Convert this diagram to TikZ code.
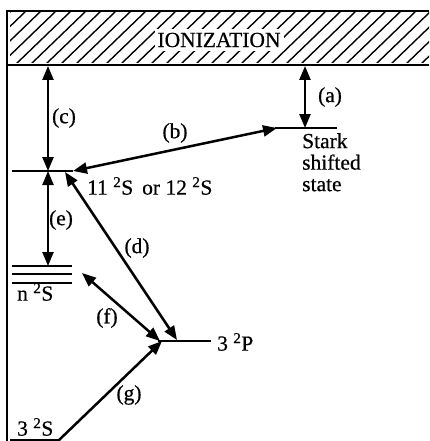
\documentclass[tikz,border=0pt]{standalone}
\usepackage{fontspec}
\setmainfont[FakeBold=0.6]{Liberation Serif}
\usetikzlibrary{arrows.meta}
\begin{document}
\begin{tikzpicture}[x=1pt,y=-1pt,
  lbl/.style={font=\fontsize{21.5}{21.5}\selectfont, inner sep=1pt},
  conn/.style={line width=2.5pt},
  lvl/.style={line width=2.8pt},
  both/.style={conn,{Triangle[length=14pt,width=11pt]}-{Triangle[length=14pt,width=11pt]}},
  one/.style={conn,-{Triangle[length=14pt,width=11pt]}},
  hatch/.style={line width=1.4pt}]
\useasboundingbox (0,0) rectangle (429,441);
% ionization band
\begin{scope}
\clip (10,13) rectangle (429,63);
\foreach \i in {-60,-45,...,480} \draw[hatch] (\i,65) -- (\i+56,11);
\end{scope}
\draw[line width=2.2pt] (429,11) -- (7,11) -- (7,441);
\draw[line width=2.2pt] (7,65) -- (429,65);
\node[lbl, fill=white, inner xsep=3pt, inner ysep=4pt] (ion) at (219,40) {IONIZATION};
% coordinates
\coordinate (cT) at (48,66);
\coordinate (cB) at (48,171);
\coordinate (eT) at (48,171);
\coordinate (eB) at (48,266);
\coordinate (aT) at (305,66);
\coordinate (aB) at (305,128);
\coordinate (sL) at (275,128);
\coordinate (sR) at (337,128);
\coordinate (l11L) at (12,171);
\coordinate (l11R) at (73,171);
\coordinate (nA1) at (12,266);
\coordinate (nA2) at (72,266);
\coordinate (nB1) at (12,274);
\coordinate (nB2) at (72,274);
\coordinate (nC1) at (12,283);
\coordinate (nC2) at (72,283);
\coordinate (pL) at (158,341);
\coordinate (pR) at (211,341);
\coordinate (s3L) at (10,440);
\coordinate (s3R) at (60,440);
\coordinate (bA) at (73,171);
\coordinate (bB) at (277,128);
\coordinate (dA) at (65,172);
\coordinate (dB) at (177,340);
\coordinate (fA) at (82,273);
\coordinate (fB) at (160,341);
\coordinate (gA) at (58,441);
\coordinate (gB) at (162,341);
% levels
\draw[lvl] (sL) -- (sR);
\draw[lvl] (l11L) -- (l11R);
\draw[lvl] (nA1) -- (nA2);
\draw[lvl] (nB1) -- (nB2);
\draw[lvl] (nC1) -- (nC2);
\draw[lvl] (pL) -- (pR);
\draw[lvl] (s3L) -- (s3R);
% transitions
\draw[both] (cT) -- (cB);
\draw[both] (eT) -- (eB);
\draw[both] (aT) -- (aB);
\draw[both] (bA) -- (bB);
\draw[both] (dA) -- (dB);
\draw[both] (fA) -- (fB);
\draw[one] (gA) -- (gB);
% labels
\node[lbl] (la) at (330,97) {(a)};
\node[lbl] (lb) at (175,133) {(b)};
\node[lbl] (lc) at (64,118) {(c)};
\node[lbl] (ld) at (137,248) {(d)};
\node[lbl] (le) at (61,220) {(e)};
\node[lbl] (lf) at (107,318) {(f)};
\node[lbl] (lg) at (129,395) {(g)};
\node[lbl, anchor=west] (t11) at (86,186) {11 \textsuperscript{2}S\, or 12 \textsuperscript{2}S};
\node[lbl, anchor=north west, align=left] (tst) at (301,132) {Stark\\shifted\\state};
\node[lbl, anchor=west] (tn) at (16,292) {n \textsuperscript{2}S};
\node[lbl, anchor=west] (tp) at (216,342) {3 \textsuperscript{2}P};
\node[lbl, anchor=west] (ts) at (16,427) {3 \textsuperscript{2}S};
\end{tikzpicture}
\end{document}
